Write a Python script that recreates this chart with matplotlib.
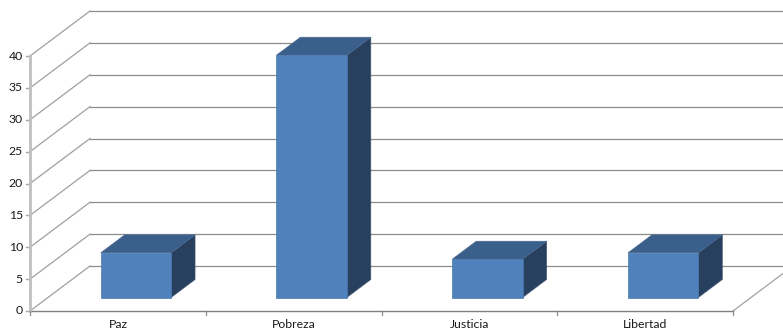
import numpy as np
import matplotlib.pyplot as plt
from matplotlib.patches import Polygon

categories = ['Paz', 'Pobreza', 'Justicia', 'Libertad']
values = [7, 38, 6, 7]
yticks = [0, 5, 10, 15, 20, 25, 30, 35, 40]

PX_X = 175.75  # pixels per category
PX_Y = 6.375   # pixels per value unit

# oblique projection: full depth moves right by DX (category units) and up by DY (value units)
DX = 60 / PX_X
DY = 45 / PX_Y


def proj(x, y, d):
    return x + d * DX, y + d * DY


fig = plt.figure(figsize=(7.83, 3.32), dpi=100)
ax = fig.add_axes([0, 0, 1, 1])
ax.set_xlim(-30 / PX_X, 753 / PX_X)
ax.set_ylim(-21 / PX_Y, 311 / PX_Y)
ax.axis('off')

n = len(categories)
grid_back = '#8c8c8c'
grid_side = '#a0a0a0'

# gridlines: side wall diagonal + back wall horizontal
for t in yticks:
    x0, y0 = proj(0, t, 0)
    x1, y1 = proj(0, t, 1)
    x2, y2 = proj(n, t, 1)
    ax.plot([x0, x1], [y0, y1], color=grid_side, lw=0.9, zorder=1)
    ax.plot([x1, x2], [y1, y2], color=grid_back, lw=0.9, zorder=1)
    # tick mark on value axis
    ax.plot([x0 - 4 / PX_X, x0], [y0, y0], color='#a6a6a6', lw=1.0, zorder=2)
    ax.text(x0 - 7 / PX_X, y0, str(t), ha='right', va='center',
            fontsize=8.8, family='Lato', color='#1a1a1a')

# floor front edge and right diagonal
ax.plot([0, n], [0, 0], color='#7f7f7f', lw=1.0, zorder=2)
xr, yr = proj(n, 0, 1)
ax.plot([n, xr], [0, yr], color=grid_side, lw=0.9, zorder=1)
# value axis line
ax.plot([0, 0], [0, yticks[-1]], color='#bfbfbf', lw=2.0, zorder=2)

# category ticks and labels
for i in range(n + 1):
    ax.plot([i, i], [0, -4 / PX_Y], color='#8c8c8c', lw=0.9, zorder=2)
for i, c in enumerate(categories):
    ax.text(i + 0.5, -13 / PX_Y, c, ha='center', va='center',
            fontsize=8.8, family='Lato', color='#1a1a1a')

# 3D bars
front_c = '#4f81bd'
top_c = '#3a5f8b'
side_c = '#283f5e'
d0, d1 = 0.3, 0.7
w = 0.2
for i, v in enumerate(values):
    cx = i + 0.5
    fl, fb = proj(cx - w, 0, d0)
    fr, _ = proj(cx + w, 0, d0)
    _, ft = proj(cx - w, v, d0)
    bl, bb = proj(cx - w, 0, d1)
    br, _ = proj(cx + w, 0, d1)
    _, bt = proj(cx - w, v, d1)
    side = Polygon([(fr, fb), (fr, ft), (br, bt), (br, bb)], closed=True,
                   facecolor=side_c, edgecolor='#3d5573', lw=0.5, zorder=3)
    top = Polygon([(fl, ft), (fr, ft), (br, bt), (bl, bt)], closed=True,
                  facecolor=top_c, edgecolor='#4a6a94', lw=0.5, zorder=3)
    front = Polygon([(fl, fb), (fr, fb), (fr, ft), (fl, ft)], closed=True,
                    facecolor=front_c, edgecolor='#4a78b0', lw=0.5, zorder=4)
    for p in (side, top, front):
        ax.add_patch(p)

fig.savefig('out.png', dpi=100)
